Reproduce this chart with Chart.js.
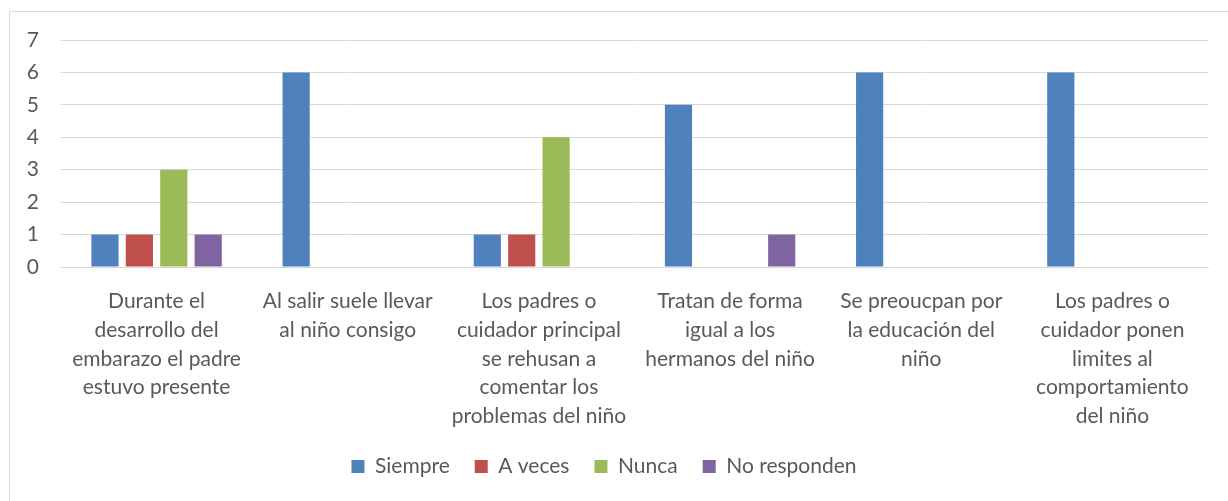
<!DOCTYPE html>
<html lang="es">
<head>
  <meta charset="UTF-8">
  <title>Gráfico</title>
  <style>
    body { margin: 0; background: #fff; }
    #frame { position: absolute; left: 9px; top: 11px; width: 1240px; height: 520px; border: 1px solid #d9d9d9; }
    canvas { position: absolute; left: 0; top: 0; }
  </style>
  <script src="https://cdn.jsdelivr.net/npm/chart.js"></script>
</head>
<body>
  <div id="frame"></div>
  <canvas id="myChart" width="1228" height="501"></canvas>

  <script>
    // categorias (ya partidas en lineas como en el original)
    const categories = [
      ["Durante el", "desarrollo del", "embarazo el padre", "estuvo presente"],
      ["Al salir suele llevar", "al niño consigo"],
      ["Los padres o", "cuidador principal", "se rehusan a", "comentar los", "problemas del niño"],
      ["Tratan de forma", "igual a los", "hermanos del niño"],
      ["Se preoucpan por", "la educación del", "niño"],
      ["Los padres o", "cuidador ponen", "limites al", "comportamiento", "del niño"]
    ];
    const siempre = [1, 6, 1, 5, 6, 6];
    const aVeces = [1, 0, 1, 0, 0, 0];
    const nunca = [3, 0, 4, 0, 0, 0];
    const noResponden = [1, 0, 0, 1, 0, 0];
    const yTicks = [0, 1, 2, 3, 4, 5, 6, 7];

    const textColor = '#595959';
    const gridColor = '#d9d9d9';
    const fontFamily = 'Lato, "Open Sans", sans-serif';

    const ctx = document.getElementById('myChart').getContext('2d');
    new Chart(ctx, {
      type: 'bar',
      data: {
        labels: categories,
        datasets: [
          { label: 'Siempre', data: siempre, backgroundColor: '#4f81bd' },
          { label: 'A veces', data: aVeces, backgroundColor: '#c0504d' },
          { label: 'Nunca', data: nunca, backgroundColor: '#9bbb59' },
          { label: 'No responden', data: noResponden, backgroundColor: '#8064a2' }
        ]
      },
      options: {
        responsive: false,
        animation: false,
        categoryPercentage: 0.72,
        barPercentage: 0.79,
        layout: { padding: { top: 40, left: 0, right: 20, bottom: 14 } },
        plugins: {
          tooltip: { enabled: false },
          legend: {
            position: 'bottom',
            labels: {
              color: textColor,
              font: { family: fontFamily, size: 21 },
              boxWidth: 13,
              boxHeight: 13,
              padding: 25
            }
          }
        },
        scales: {
          x: {
            grid: { display: false, drawTicks: false },
            border: { color: gridColor },
            ticks: {
              color: textColor,
              font: { family: fontFamily, size: 21, lineHeight: 1.37 },
              padding: 20,
              maxRotation: 0,
              autoSkip: false
            },
            afterFit: function (scale) { scale.height = 164; }
          },
          y: {
            min: 0,
            max: 7,
            afterBuildTicks: function (scale) { scale.ticks = yTicks.map(v => ({ value: v })); },
            grid: { color: gridColor, drawTicks: false },
            border: { display: false },
            ticks: {
              color: textColor,
              font: { family: fontFamily, size: 21 },
              padding: 22
            },
            afterFit: function (scale) { scale.width = 61; }
          }
        }
      }
    });
  </script>
</body>
</html>
